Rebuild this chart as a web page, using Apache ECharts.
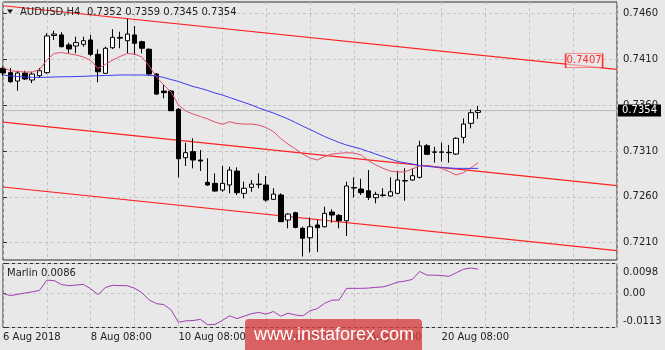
<!DOCTYPE html>
<html><head><meta charset="utf-8">
<script src="https://cdn.jsdelivr.net/npm/echarts@6/dist/echarts.min.js"></script>
<style>html,body{margin:0;padding:0;background:#e8e8e8;}#c{width:665px;height:350px;}</style>
</head><body><div id="c"></div>
<script>
// ---- data ----
const barIndex = [0,1,2,3,4,5,6,7,8,9,10,11,12,13,14,15,16,17,18,19,20,21,22,23,24,25,26,27,28,29,30,31,32,33,34,35,36,37,38,39,40,41,42,43,44,45,46,47,48,49,50,51,52,53,54,55,56,57,58,59,60,61,62,63,64,65];
const opens  = [0.7400,0.73953,0.73862,0.73949,0.73873,0.73920,0.73953,0.74358,0.74364,0.74255,0.74244,0.74262,0.74309,0.74153,0.73946,0.74225,0.74328,0.74301,0.74364,0.74290,0.74208,0.73938,0.73753,0.73753,0.73554,0.73026,0.73092,0.73001,0.72758,0.72747,0.72674,0.72729,0.72881,0.72638,0.72703,0.72733,0.72729,0.72573,0.72620,0.72347,0.72427,0.72257,0.72154,0.72293,0.72274,0.72434,0.72398,0.72339,0.72696,0.72685,0.72666,0.72590,0.72614,0.72609,0.72638,0.72772,0.72783,0.72812,0.73157,0.73085,0.73085,0.73085,0.73066,0.73248,0.73401,0.7352];
const closes = [0.7395,0.73855,0.73949,0.73884,0.73938,0.73974,0.74353,0.74374,0.74236,0.74211,0.74280,0.74301,0.74153,0.73963,0.74219,0.74338,0.74338,0.74374,0.74273,0.74219,0.73938,0.73720,0.73735,0.73538,0.73015,0.73081,0.73001,0.72990,0.72729,0.72663,0.72747,0.72892,0.72645,0.72693,0.72739,0.72739,0.72565,0.72630,0.72329,0.72412,0.72267,0.72148,0.72274,0.72263,0.72420,0.72402,0.72339,0.72718,0.72701,0.72645,0.72594,0.72627,0.72620,0.72655,0.72783,0.72778,0.72830,0.73154,0.73063,0.73090,0.73090,0.73081,0.73238,0.73393,0.73517,0.7354];
const lows   = [0.7392,0.73840,0.73756,0.73873,0.73840,0.73895,0.73940,0.74309,0.74229,0.74164,0.74164,0.74236,0.74135,0.73848,0.73938,0.74211,0.74219,0.74164,0.74146,0.74164,0.73917,0.73709,0.73674,0.73535,0.72812,0.72936,0.72910,0.72881,0.72721,0.72655,0.72655,0.72638,0.72620,0.72583,0.72655,0.72693,0.72547,0.72565,0.72329,0.72257,0.72257,0.71949,0.71993,0.72000,0.72267,0.72318,0.72257,0.72173,0.72594,0.72620,0.72565,0.72529,0.72601,0.72601,0.72630,0.72558,0.72775,0.72801,0.73056,0.72972,0.72983,0.72972,0.73056,0.73183,0.73346,0.7345];
const highs  = [0.74018,0.74004,0.73974,0.73974,0.73963,0.74004,0.74382,0.74410,0.74393,0.74280,0.74345,0.74345,0.74364,0.74208,0.74236,0.74426,0.74399,0.74538,0.74462,0.74301,0.74219,0.73949,0.73819,0.73764,0.73568,0.73190,0.73238,0.73110,0.73020,0.72856,0.72936,0.72928,0.72921,0.72765,0.72783,0.72856,0.72827,0.72693,0.72638,0.72420,0.72438,0.72274,0.72376,0.72350,0.72492,0.72464,0.72412,0.72765,0.72812,0.72797,0.72892,0.72655,0.72693,0.72812,0.72884,0.72911,0.72911,0.73211,0.73175,0.73146,0.73190,0.73165,0.73249,0.73455,0.73554,0.7359];
const maFast = [0.74009,0.73974,0.73966,0.73960,0.73960,0.73987,0.74091,0.74162,0.74173,0.74159,0.74146,0.74124,0.74086,0.73998,0.74042,0.74091,0.74129,0.74162,0.74156,0.74124,0.74026,0.73906,0.73819,0.73742,0.73601,0.73535,0.73502,0.73475,0.73448,0.73415,0.73390,0.73418,0.73399,0.73393,0.73393,0.73382,0.73355,0.73311,0.73235,0.73175,0.73121,0.73066,0.73023,0.73001,0.73039,0.73066,0.73074,0.73081,0.73077,0.73056,0.72995,0.72947,0.72910,0.72881,0.72870,0.72873,0.72903,0.72936,0.72941,0.72930,0.72910,0.72876,0.72838,0.72863,0.72914,0.72974];
const maSlow = [0.73928,0.73917,0.73911,0.73906,0.73902,0.73902,0.73903,0.73906,0.73908,0.73909,0.73911,0.73913,0.73917,0.73920,0.73922,0.73924,0.73928,0.73928,0.73928,0.73928,0.73924,0.73917,0.73900,0.73878,0.73857,0.73829,0.73802,0.73783,0.73759,0.73731,0.73710,0.73682,0.73655,0.73628,0.73601,0.73568,0.73541,0.73513,0.73481,0.73448,0.73410,0.73371,0.73333,0.73295,0.73257,0.73224,0.73192,0.73164,0.73143,0.73121,0.73094,0.73066,0.73039,0.73012,0.72985,0.72971,0.72957,0.72943,0.72932,0.72925,0.72919,0.72914,0.72910,0.72910,0.72910,0.72910];
const marlin = [-0.00007,-0.00079,-0.00039,0.00007,0.00046,0.00092,0.00432,0.00416,0.00288,0.00249,0.00269,0.00292,0.00144,-0.00043,0.00187,0.00262,0.00252,0.00249,0.00164,0.00020,-0.00223,-0.00344,-0.00374,-0.00550,-0.00960,-0.00911,-0.00901,-0.00862,-0.01042,-0.01029,-0.00898,-0.00744,-0.00836,-0.00757,-0.00672,-0.00632,-0.00691,-0.00603,-0.00757,-0.00659,-0.00718,-0.00747,-0.00580,-0.00508,-0.00331,-0.00229,-0.00223,0.00161,0.00161,0.00161,0.00170,0.00193,0.00210,0.00279,0.00367,0.00400,0.00455,0.00718,0.00596,0.00596,0.00583,0.00557,0.00672,0.00793,0.00832,0.00793];
const channelTop = [[0,0.74682],[84,0.73989]];
const channelMid = [[0,0.73415],[84,0.72722]];
const channelBot = [[0,0.72707],[84,0.72014]];
const trendLabelValue = 0.7407;
const lastPrice = 0.7354;
const priceTicks = [0.7210,0.7260,0.7310,0.7360,0.7410,0.7460];
const marlinTickValues = [0.0098,0,-0.0113];
const marlinTickLabels = ['0.0098','0.00','-0.0113'];
const timeLabelBars = [0,12,24,36,48,60];
const timeLabels = ['6 Aug 2018','8 Aug 08:00','10 Aug 08:00','14 Aug 08:00','16 Aug 08:00','20 Aug 08:00'];
const headerSymbol = 'AUDUSD,H4';
const headerQuote = '0.7352 0.7359 0.7345 0.7354';
const indicatorTitle = 'Marlin 0.0086';

// ---- chart ----
const FONT = 'DejaVu Sans';
const GRID = '#c3c3c3';
const chart = echarts.init(document.getElementById('c'), null, {renderer:'canvas'});
const dash = {show:true, lineStyle:{type:[3,3], color:GRID, width:1}};
const candleData = barIndex.map(i => [i, opens[i], closes[i], lows[i], highs[i]]);
const pair = arr => barIndex.map(i => [i, arr[i]]);

chart.setOption({
  animation:false,
  backgroundColor:'#e8e8e8',
  grid:[
    {left:3, top:2, width:614, height:258, show:true, borderColor:'#2e2e2e', borderWidth:1, backgroundColor:'transparent'},
    {left:3, top:263.5, width:614, height:64, show:true, borderColor:'#2e2e2e', borderWidth:1, backgroundColor:'transparent'}
  ],
  xAxis:[
    {gridIndex:0, type:'value', min:0, max:84, interval:6, axisLine:{show:false}, axisTick:{show:false}, axisLabel:{show:false}, splitLine:dash},
    {gridIndex:1, type:'value', min:0, max:84, interval:6, axisLine:{show:false}, axisTick:{show:false}, splitLine:dash,
     axisLabel:{show:true, align:'left', margin:5, color:'#222', fontSize:10, fontFamily:FONT,
       formatter:v => { const k = timeLabelBars.indexOf(Math.round(v)); return k >= 0 ? timeLabels[k] : ''; }}}
  ],
  yAxis:[
    {gridIndex:0, type:'value', position:'right', min:0.719115, max:0.747231, axisLine:{show:false},
     axisTick:{show:true, customValues:priceTicks, length:4, lineStyle:{color:'#333'}},
     axisLabel:{customValues:priceTicks, formatter:v => v.toFixed(4), margin:6, color:'#222', fontSize:10, fontFamily:FONT},
     splitLine:dash},
    {gridIndex:1, type:'value', position:'right', min:-0.0113, max:0.0098, axisLine:{show:false},
     axisTick:{show:true, customValues:marlinTickValues, length:3, lineStyle:{color:'#333'}},
     axisLabel:{customValues:marlinTickValues, margin:6, color:'#222', fontSize:10, fontFamily:FONT,
       formatter:v => {
         let k = 0, best = 1;
         marlinTickValues.forEach((t, j) => { if (Math.abs(t - v) < best) { best = Math.abs(t - v); k = j; } });
         const tag = k === 0 ? 'top' : (k === 2 ? 'bot' : 'mid');
         return '{' + tag + '|' + marlinTickLabels[k] + '}';
       },
       rich:{
         top:{padding:[17,0,0,0], fontSize:10, fontFamily:FONT, color:'#222'},
         mid:{fontSize:10, fontFamily:FONT, color:'#222'},
         bot:{padding:[0,0,13,0], fontSize:10, fontFamily:FONT, color:'#222'}
       }},
     splitLine:dash}
  ],
  series:[
    {type:'line', xAxisIndex:0, yAxisIndex:0, data:channelTop, symbol:'none', z:2, silent:true,
     lineStyle:{color:'#ff2222', width:1.2},
     markPoint:{symbol:'rect', symbolSize:[37,14], silent:true,
       data:[{coord:[79.5, trendLabelValue + 0.00013], value:trendLabelValue,
         itemStyle:{color:'rgba(232,232,232,0.6)', borderColor:'#ff3030', borderWidth:1},
         label:{show:true, position:'inside', formatter:trendLabelValue.toFixed(4), color:'#ff2a2a', fontSize:10, fontFamily:FONT}}]}},
    {type:'line', xAxisIndex:0, yAxisIndex:0, data:channelMid, symbol:'none', z:2, silent:true, lineStyle:{color:'#ff2222', width:1.2}},
    {type:'line', xAxisIndex:0, yAxisIndex:0, data:channelBot, symbol:'none', z:2, silent:true, lineStyle:{color:'#ff2222', width:1.2}},
    {type:'line', xAxisIndex:0, yAxisIndex:0, data:[[0, lastPrice],[84, lastPrice]], symbol:'none', z:1, silent:true,
     lineStyle:{color:'#b9b9b9', width:1},
     endLabel:{show:true, distance:1, formatter:lastPrice.toFixed(4), color:'#fff', backgroundColor:'#000', padding:[1,4,1,4], fontSize:10, fontFamily:FONT}},
    {type:'candlestick', xAxisIndex:0, yAxisIndex:0, z:3, barWidth:5,
     dimensions:['idx','open','close','lowest','highest'], encode:{x:0, y:[1,2,3,4]},
     data:candleData,
     itemStyle:{color:'#ffffff', color0:'#000000', borderColor:'#000000', borderColor0:'#000000', borderWidth:1}},
    {type:'line', xAxisIndex:0, yAxisIndex:0, data:pair(maFast), symbol:'none', z:4, lineStyle:{color:'#e2506c', width:1}},
    {type:'line', xAxisIndex:0, yAxisIndex:0, data:pair(maSlow), symbol:'none', z:4, lineStyle:{color:'#3c3cf2', width:1}},
    {type:'line', xAxisIndex:1, yAxisIndex:1, data:pair(marlin), symbol:'none', z:4, lineStyle:{color:'#a23cb4', width:1}}
  ],
  graphic:[
    {type:'polygon', z:100, shape:{points:[[7,9.5],[13,9.5],[10,13.5]]}, style:{fill:'#111'}},
    {type:'text', z:100, x:20, y:12, style:{text:headerSymbol, font:'10px "DejaVu Sans"', fill:'#222', verticalAlign:'middle'}},
    {type:'text', z:100, x:87, y:12, style:{text:headerQuote, font:'10px "DejaVu Sans"', fill:'#222', verticalAlign:'middle'}},
    {type:'text', z:100, x:7, y:273.5, style:{text:indicatorTitle, font:'10px "DejaVu Sans"', fill:'#222', verticalAlign:'middle'}},
    {type:'rect', z:100, shape:{x:245, y:319, width:177, height:36, r:[4,4,0,0]}, style:{fill:'rgba(214,62,62,0.8)'}},
    {type:'text', z:101, x:254, y:335, style:{text:'www.instaforex.com', font:'18px "Liberation Sans"', fill:'#ffffff', verticalAlign:'middle'}}
  ]
});
</script>
</body></html>
